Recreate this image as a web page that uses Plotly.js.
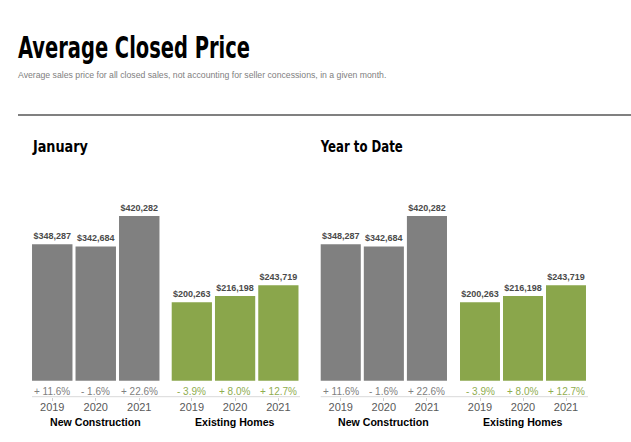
<!DOCTYPE html>
<html>
<head>
<meta charset="utf-8">
<script src="https://cdn.plot.ly/plotly-3.0.1.min.js"></script>
<style>html,body{margin:0;padding:0;background:#fff;}#chart{width:631px;height:442px;}</style>
</head>
<body>
<div id="chart"></div>
<script>
// ---- data ----
const years = ['2019', '2020', '2021'];
const groupLabels = ['New Construction', 'Existing Homes'];
const panelTitles = ['January', 'Year to Date'];

const janNewConstruction = [348287, 342684, 420282];
const janExistingHomes = [200263, 216198, 243719];
const ytdNewConstruction = [348287, 342684, 420282];
const ytdExistingHomes = [200263, 216198, 243719];

const janNewChange = ['+ 11.6%', '- 1.6%', '+ 22.6%'];
const janExistingChange = ['- 3.9%', '+ 8.0%', '+ 12.7%'];
const ytdNewChange = ['+ 11.6%', '- 1.6%', '+ 22.6%'];
const ytdExistingChange = ['- 3.9%', '+ 8.0%', '+ 12.7%'];

const mainTitle = 'Average Closed Price';
const subTitle = 'Average sales price for all closed sales, not accounting for seller concessions, in a given month.';

// ---- styles ----
const W = 631, H = 442;
const GRAY = '#808080', GREEN = '#8aa64b';
const GRAY_TXT = '#808080', GREEN_TXT = '#8fad50';
const BODY = '"Liberation Sans", Arial, Helvetica, sans-serif';
const COND = '"DejaVu Sans Condensed", "Liberation Sans", sans-serif';

const px = v => v / W;          // horizontal px -> paper
const py = v => 1 - v / H;      // vertical px (from top) -> paper

const axisLinePx = 396.7, zeroPx = 380.7, topPx = 200;
const dollarsPerPx = 420282 / (zeroPx - 216);
const yRange = [-(axisLinePx - zeroPx) * dollarsPerPx, (zeroPx - topPx) * dollarsPerPx];

const panels = [
  { nc: janNewConstruction, eh: janExistingHomes, ncC: janNewChange, ehC: janExistingChange,
    ncDom: [30.5, 161], ehDom: [170.2, 300], title: panelTitles[0], titleX: 32, titleW: 55, line: [32, 300] },
  { nc: ytdNewConstruction, eh: ytdExistingHomes, ncC: ytdNewChange, ehC: ytdExistingChange,
    ncDom: [319.2, 448.5], ehDom: [458.5, 587.5], title: panelTitles[1], titleX: 320, titleW: 82, line: [320.7, 588] }
];

const squeeze = [{ text: mainTitle, width: 232, left: 18 }];

const traces = [];
const layout = {
  width: W, height: H,
  margin: { l: 0, r: 0, t: 0, b: 0 },
  paper_bgcolor: '#fff', plot_bgcolor: '#fff',
  showlegend: false,
  bargap: 0.07,
  font: { family: BODY, color: '#4d4d4d' },
  title: {
    text: mainTitle,
    font: { family: COND, size: 31, weight: 'bold', color: '#000' },
    x: px(18), xanchor: 'left', xref: 'paper',
    y: py(47), yanchor: 'middle', yref: 'paper'
  },
  annotations: [
    { text: subTitle, xref: 'paper', yref: 'paper', x: px(18), y: py(75), xanchor: 'left', yanchor: 'middle',
      xshift: -2, showarrow: false, font: { family: BODY, size: 8.7, color: '#808080' } }
  ],
  shapes: [
    { type: 'line', xref: 'paper', yref: 'paper', x0: px(18), x1: 1, y0: py(115), y1: py(115),
      line: { color: '#808080', width: 2 } }
  ]
};

let idx = 1;
panels.forEach((p, pi) => {
  const groups = [
    { vals: p.nc, chg: p.ncC, dom: p.ncDom, color: GRAY, tcolor: GRAY_TXT, label: groupLabels[0] },
    { vals: p.eh, chg: p.ehC, dom: p.ehDom, color: GREEN, tcolor: GREEN_TXT, label: groupLabels[1] }
  ];
  groups.forEach(g => {
    const s = idx === 1 ? '' : String(idx);
    const xName = 'x' + s, yName = 'y' + s;
    traces.push({
      type: 'bar', x: years.slice(), y: g.vals.slice(), xaxis: xName, yaxis: yName,
      marker: { color: g.color, line: { width: 0 } },
      texttemplate: '$%{y:,.0f}', textposition: 'outside', cliponaxis: false,
      textfont: { family: BODY, size: 9, weight: 'bold', color: '#4a4a4a' },
      hoverinfo: 'skip'
    });
    layout['xaxis' + s] = {
      type: 'category', domain: [px(g.dom[0]), px(g.dom[1])], anchor: yName,
      showgrid: false, zeroline: false, showline: false,
      ticks: 'outside', ticklen: 3, tickcolor: '#cfcfcf', tickwidth: 1,
      ticklabelstandoff: -3,
      tickfont: { family: BODY, size: 11, color: '#595959' }
    };
    layout['yaxis' + s] = {
      domain: [py(axisLinePx), py(topPx)], range: yRange, autorange: false,
      anchor: xName, visible: false
    };
    g.chg.forEach((c, i) => {
      layout.annotations.push({
        text: c, xref: xName, yref: yName, x: i, y: 0, yshift: -10.8,
        xanchor: 'center', yanchor: 'middle', showarrow: false,
        font: { family: BODY, size: 10, color: g.tcolor }
      });
    });
    layout.annotations.push({
      text: g.label, xref: 'paper', yref: 'paper',
      x: px((g.dom[0] + g.dom[1]) / 2), y: py(422.3), xanchor: 'center', yanchor: 'middle',
      showarrow: false, font: { family: BODY, size: 10.6, weight: 'bold', color: '#000' }
    });
    idx++;
  });
  layout.annotations.push({
    text: p.title, xref: 'paper', yref: 'paper', x: px(p.titleX), y: py(147),
    xanchor: 'left', yanchor: 'middle', showarrow: false,
    font: { family: COND, size: 16, weight: 'bold', color: '#000' }
  });
  squeeze.push({ text: p.title, width: p.titleW, left: p.titleX });
  layout.shapes.push({
    type: 'line', xref: 'paper', yref: 'paper', x0: px(p.line[0]), x1: px(p.line[1]),
    y0: py(axisLinePx), y1: py(axisLinePx), line: { color: '#d9d9d9', width: 1 }
  });
});

Plotly.newPlot('chart', traces, layout, { displayModeBar: false, staticPlot: true }).then(gd => {
  // condense the heading texts to the narrow width of the original typeface
  const host = gd.getBoundingClientRect();
  gd.querySelectorAll('text').forEach(t => {
    const item = squeeze.find(s => s.text === t.textContent);
    if (item) {
      t.setAttribute('textLength', item.width);
      t.setAttribute('lengthAdjust', 'spacingAndGlyphs');
      const r = t.getBoundingClientRect();
      const dx = item.left - (r.left - host.left);
      const x0 = parseFloat(t.getAttribute('x') || '0');
      t.setAttribute('x', x0 + dx);
    }
  });
});
</script>
</body>
</html>
